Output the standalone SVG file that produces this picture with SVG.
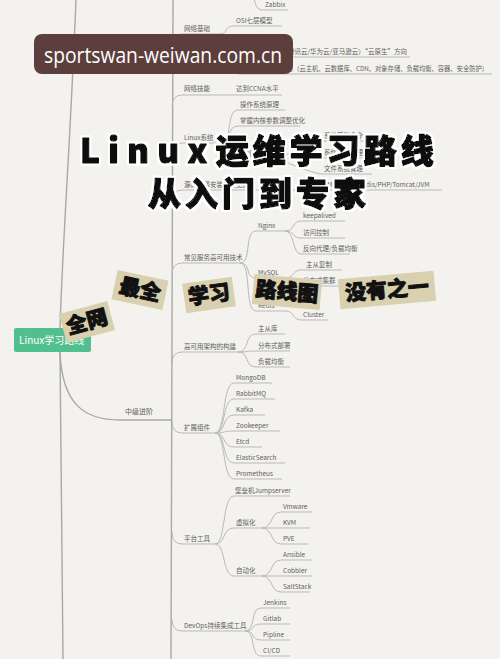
<svg xmlns="http://www.w3.org/2000/svg" width="500" height="659" viewBox="0 0 500 659">
<defs>
<style>
.t{font-family:"Noto Sans CJK SC","Noto Sans",sans-serif;font-size:6.5px;fill:#5e5e5e}
.c{fill:none;stroke:#b9b9b9;stroke-width:1}
.tr{fill:none;stroke:#a8a8a8;stroke-width:1.4}
.st{fill:#d9d0b0}
.sx{font-family:"Noto Sans CJK SC",sans-serif;font-weight:900;font-size:21px;fill:#111;stroke:#111;stroke-width:0.9;stroke-linejoin:round}
.ti{font-family:"Noto Sans CJK SC",sans-serif;font-weight:900;font-size:33px;fill:#111;stroke:#111;stroke-width:1.4;stroke-linejoin:round}
</style>
<filter id="halo" x="-5%" y="-20%" width="110%" height="140%">
<feMorphology in="SourceAlpha" operator="dilate" radius="2" result="d"/>
<feFlood flood-color="#ffffff"/>
<feComposite in2="d" operator="in" result="w"/>
<feMerge><feMergeNode in="w"/><feMergeNode in="SourceGraphic"/></feMerge>
</filter>
</defs>
<rect width="500" height="659" fill="#f3f2ef"/>

<g id="connectors">
<path class="tr" d="M76 0 C70 150 62 250 60 330"/>
<path class="tr" d="M60 352 L63 659"/>
<path class="tr" d="M173 0 L171 659"/>
<path class="tr" d="M60 352 C62 405 85 420 120 420 H172"/>
<path class="c" d="M254 -4 Q255 10 262 10 H288"/>
<path class="c" d="M172 46 Q172 34 182 34 H220"/>
<path class="c" d="M220 34 C228 34 224 26 234 26 H282"/>
<path class="c" d="M220 34 C228 34 224 42 234 42 H262"/>
<path class="c" d="M172 74 Q172 62 182 62 H222"/>
<path class="c" d="M222 62 C230 62 228 57 238 57 H410"/>
<path class="c" d="M222 62 C230 62 230 74 240 74 H492"/>
<path class="c" d="M172 107 Q172 95 182 95 H282"/>
<path class="c" d="M172 155 Q172 143 182 143 H222"/>
<path class="c" d="M222 143 C232 143 226 110 238 110 H285"/>
<path class="c" d="M222 143 C232 143 226 126 238 126 H300"/>
<path class="c" d="M222 143 C230 143 226 159 234 159 H272"/>
<path class="c" d="M272 159 C282 159 312 141 322 141 H372"/>
<path class="c" d="M272 159 C282 159 312 158 322 158 H372"/>
<path class="c" d="M272 159 C282 159 312 174 322 174 H372"/>
<path class="c" d="M172 202 Q172 190 182 190 H240 L442 190"/>
<path class="c" d="M172 275 Q172 263 182 263 H240"/>
<path class="c" d="M240 263 C252 263 244 231 256 231 H285"/>
<path class="c" d="M240 263 C252 263 244 278 256 278 H285"/>
<path class="c" d="M240 263 C252 263 244 311 256 311 H285"/>
<path class="c" d="M285 231 C295 231 292 221 301 221 H345"/>
<path class="c" d="M285 231 C295 231 292 238 301 238 H345"/>
<path class="c" d="M285 231 C295 231 292 254 301 254 H350"/>
<path class="c" d="M285 278 C295 278 292 270 301 270 H342"/>
<path class="c" d="M285 278 C295 278 292 286 301 286 H342"/>
<path class="c" d="M285 311 C295 311 292 320 301 320 H328"/>
<path class="c" d="M172 364 Q172 352 182 352 H238"/>
<path class="c" d="M238 352 C250 352 244 334 256 334 H285"/>
<path class="c" d="M238 352 C250 352 244 351 256 351 H290"/>
<path class="c" d="M238 352 C250 352 244 367 256 367 H290"/>
<path class="c" d="M172 421 Q172 433 182 433 H215"/>
<path class="c" d="M215 433 C226 433 222 383 234 383 H272"/>
<path class="c" d="M215 433 C226 433 222 399 234 399 H275"/>
<path class="c" d="M215 433 C226 433 222 415 234 415 H265"/>
<path class="c" d="M215 433 C226 433 222 431 234 431 H280"/>
<path class="c" d="M215 433 C226 433 222 447 234 447 H262"/>
<path class="c" d="M215 433 C226 433 222 463 234 463 H285"/>
<path class="c" d="M215 433 C226 433 222 479 234 479 H282"/>
<path class="c" d="M172 532 Q172 544 182 544 H215"/>
<path class="c" d="M215 544 C226 544 222 496 234 496 H290"/>
<path class="c" d="M215 544 C226 544 222 528 234 528 H262"/>
<path class="c" d="M215 544 C226 544 222 576 234 576 H262"/>
<path class="c" d="M262 528 C273 528 270 512 281 512 H312"/>
<path class="c" d="M262 528 C273 528 270 528 281 528 H310"/>
<path class="c" d="M262 528 C273 528 270 544 281 544 H308"/>
<path class="c" d="M262 576 C273 576 270 560 281 560 H312"/>
<path class="c" d="M262 576 C273 576 270 576 281 576 H312"/>
<path class="c" d="M262 576 C273 576 270 592 281 592 H310"/>
<path class="c" d="M172 619 Q172 631 182 631 H245"/>
<path class="c" d="M245 631 C256 631 250 608 261 608 H290"/>
<path class="c" d="M245 631 C256 631 250 624 261 624 H290"/>
<path class="c" d="M245 631 C256 631 250 640 261 640 H290"/>
<path class="c" d="M245 631 C256 631 250 656 261 656 H290"/>
</g>

<g id="n-zabbix"><text class="t" x="265" y="7">Zabbix</text></g>
<g id="n-netbase"><text class="t" x="184" y="31">网络基础</text></g>
<g id="n-osi"><text class="t" x="236" y="23">OSI七层模型</text></g>
<g id="n-tcpip"><text class="t" x="236" y="39">TCP/IP</text></g>
<g id="n-cloud1"><text class="t" x="240" y="54">公有云（阿里云/腾讯云/华为云/亚马逊云）“云原生”方向</text></g>
<g id="n-cloud2"><text class="t" x="243" y="71" textLength="245" lengthAdjust="spacingAndGlyphs">主流云常见的服务（云主机、云数据库、CDN、对象存储、负载均衡、容器、安全防护）</text></g>
<g id="n-netskill"><text class="t" x="184" y="91">网络技能</text></g>
<g id="n-ccna"><text class="t" x="236" y="91">达到CCNA水平</text></g>
<g id="n-linux"><text class="t" x="184" y="140">Linux系统</text></g>
<g id="n-os"><text class="t" x="240" y="107">操作系统原理</text></g>
<g id="n-kernel"><text class="t" x="240" y="123">掌握内核参数调整优化</text></g>
<g id="n-sys"><text class="t" x="236" y="156">系统管理</text></g>
<g id="n-cmd"><text class="t" x="324" y="138">系统基础命令</text></g>
<g id="n-svc"><text class="t" x="324" y="155">系统服务管理</text></g>
<g id="n-fs"><text class="t" x="324" y="171">文件系统管理</text></g>
<g id="n-services"><text class="t" x="184" y="187">源码编译安装及常见服务</text><text class="t" x="300" y="187">LAMP/LNMP/Nginx/Redis/PHP/Tomcat/JVM</text></g>
<g id="n-ha"><text class="t" x="184" y="260">常见服务高可用技术</text></g>
<g id="n-nginx"><text class="t" x="258" y="228">Nginx</text></g>
<g id="n-keep"><text class="t" x="303" y="218">keepalived</text></g>
<g id="n-acl"><text class="t" x="303" y="235">访问控制</text></g>
<g id="n-proxy"><text class="t" x="303" y="251">反向代理/负载均衡</text></g>
<g id="n-mysql"><text class="t" x="258" y="275">MySQL</text></g>
<g id="n-repl"><text class="t" x="306" y="267">主从复制</text></g>
<g id="n-dist"><text class="t" x="303" y="283">分布式集群</text></g>
<g id="n-redis"><text class="t" x="258" y="308">Redis</text></g>
<g id="n-cluster"><text class="t" x="303" y="317">Cluster</text></g>
<g id="n-arch"><text class="t" x="184" y="349">高可用架构的构建</text></g>
<g id="n-ms"><text class="t" x="258" y="331">主从库</text></g>
<g id="n-dd"><text class="t" x="258" y="348">分布式部署</text></g>
<g id="n-lb"><text class="t" x="258" y="364">负载均衡</text></g>
<g id="n-mid"><text class="t" x="125" y="414" style="font-size:7px">中级进阶</text></g>
<g id="n-ext"><text class="t" x="184" y="430">扩展组件</text></g>
<g id="n-mongo"><text class="t" x="236" y="380">MongoDB</text></g>
<g id="n-rabbit"><text class="t" x="236" y="396">RabbitMQ</text></g>
<g id="n-kafka"><text class="t" x="236" y="412">Kafka</text></g>
<g id="n-zk"><text class="t" x="236" y="428">Zookeeper</text></g>
<g id="n-etcd"><text class="t" x="236" y="444">Etcd</text></g>
<g id="n-es"><text class="t" x="236" y="460">ElasticSearch</text></g>
<g id="n-prom"><text class="t" x="236" y="476">Prometheus</text></g>
<g id="n-platform"><text class="t" x="184" y="541">平台工具</text></g>
<g id="n-jump"><text class="t" x="235" y="493">堡垒机Jumpserver</text></g>
<g id="n-virt"><text class="t" x="236" y="525">虚拟化</text></g>
<g id="n-vmware"><text class="t" x="283" y="509">Vmware</text></g>
<g id="n-kvm"><text class="t" x="283" y="525">KVM</text></g>
<g id="n-pve"><text class="t" x="283" y="541">PVE</text></g>
<g id="n-auto"><text class="t" x="236" y="573">自动化</text></g>
<g id="n-ansible"><text class="t" x="283" y="557">Ansible</text></g>
<g id="n-cobbler"><text class="t" x="283" y="573">Cobbler</text></g>
<g id="n-salt"><text class="t" x="283" y="589">SaltStack</text></g>
<g id="n-devops"><text class="t" x="184" y="628">DevOps持续集成工具</text></g>
<g id="n-jenkins"><text class="t" x="263" y="605">Jenkins</text></g>
<g id="n-gitlab"><text class="t" x="263" y="621">Gitlab</text></g>
<g id="n-pipeline"><text class="t" x="263" y="637">Pipline</text></g>
<g id="n-cicd"><text class="t" x="263" y="653">CI/CD</text></g>

<g id="root">
<rect x="14" y="328" width="77" height="24" rx="2" fill="#52bf8e"/>
<text x="19" y="344" style="font-family:'Noto Sans CJK SC',sans-serif;font-size:10px;fill:#fff">Linux学习路线</text>
</g>

<g id="watermark">
<rect x="34" y="34" width="259" height="40" rx="8" fill="#5c3e3c"/>
<text x="44" y="63" textLength="238" lengthAdjust="spacingAndGlyphs" style="font-family:'Open Sans',sans-serif;font-size:21px;fill:#fff">sportswan-weiwan.com.cn</text>
</g>

<g id="title" filter="url(#halo)">
<text class="ti" x="80" y="163"><tspan letter-spacing="8.5">Linux</tspan><tspan letter-spacing="4">运维学习路线</tspan></text>
<text class="ti" x="148" y="206" letter-spacing="4">从入门到专家</text>
</g>

<g id="stickers">
<g transform="translate(87 322) rotate(-15)"><rect class="st" x="-25" y="-15" width="50" height="30"/><text class="sx" x="0" y="7" text-anchor="middle">全网</text></g>
<g transform="translate(140 290) rotate(12)"><rect class="st" x="-26" y="-15" width="52" height="30"/><text class="sx" x="0" y="7" text-anchor="middle">最全</text></g>
<g transform="translate(209 295) rotate(-8)"><rect class="st" x="-25" y="-15" width="50" height="30"/><text class="sx" x="0" y="7" text-anchor="middle">学习</text></g>
<g transform="translate(287 292) rotate(5)"><rect class="st" x="-34" y="-15" width="68" height="30"/><text class="sx" x="0" y="7" text-anchor="middle">路线图</text></g>
<g transform="translate(387 290) rotate(-5)"><rect class="st" x="-48" y="-15" width="96" height="30"/><text class="sx" x="0" y="7" text-anchor="middle">没有之一</text></g>
</g>
</svg>
